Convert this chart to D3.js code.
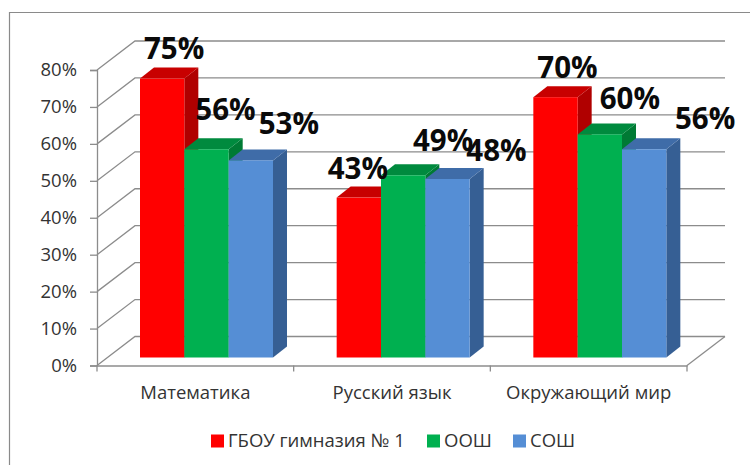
<!DOCTYPE html>
<html>
<head>
<meta charset="utf-8">
<script src="https://cdn.jsdelivr.net/npm/d3@7"></script>
<style>
    html, body { margin: 0; padding: 0; background: #fff; }
    text { font-family: "Open Sans", sans-serif; fill: #333; }
</style>
</head>
<body>
<svg width="750" height="465"></svg>
<script>
// данные с картинки
var categories = ["Математика", "Русский язык", "Окружающий мир"];
var seriesNames = ["ГБОУ гимназия № 1", "ООШ", "СОШ"];
var gymnasium = [75, 43, 70];
var oosh = [56, 49, 60];
var sosh = [53, 48, 56];
var yTicks = [0, 10, 20, 30, 40, 50, 60, 70, 80];

// цвета: перед, верх, бок
var fronts = ["#ff0000", "#00b050", "#558ed5"];
var tops = ["#c80000", "#008a3e", "#3f6ca8"];
var sides = ["#b00000", "#007a34", "#365f94"];

// подписи в оригинале сдвинуты вручную, смещение от верха столбца [dx, dy]
var labelNudge = [
    [[12, -32], [-1, -30], [12, -31]],
    [[19, -41], [40, -36], [30, -37]],
    [[38, -38], [49, -30], [61, -32]]
];

var series = [gymnasium, oosh, sosh];
var gridColor = "#8c8c8c";

var svg = d3.select("svg");

// рамка
svg.append("path")
    .attr("d", "M9.5,465V12.5H750")
    .attr("fill", "none").attr("stroke", "#8a8a8a").attr("stroke-width", 1.2);

var x = d3.scaleBand().domain(d3.range(categories.length)).range([97, 687]);
var y = d3.scaleLinear().domain([0, 80]).range([365.5, 70]);
// столбцы стоят в середине пола, поэтому у них своя шкала
var barY = d3.scaleLinear().domain([0, 80]).range([357.5, 60]);
var inner = d3.scaleBand().domain(d3.range(series.length)).range([43, 176]);

// глубина стенки и столбца
var wallDx = 38, wallDy = -29;
var barDx = 14, barDy = -11;

// стенка и пол
var grid = svg.append("g").attr("fill", "none").attr("stroke", gridColor).attr("stroke-width", 1.3);
yTicks.forEach(function (t) {
    grid.append("path").attr("d", d3.line()([
        [97, y(t)],
        [97 + wallDx, y(t) + wallDy],
        [687 + wallDx, y(t) + wallDy]
    ]));
});
grid.append("path").attr("d", d3.line()([
    [687 + wallDx, y(0) + wallDy],
    [687, y(0)]
]));

// оси
var yAxis = svg.append("g").attr("transform", "translate(97,0)")
    .call(d3.axisLeft(y).tickValues(yTicks).tickFormat(function (d) { return d + "%"; }).tickSize(7).tickPadding(13));
var xAxis = svg.append("g").attr("transform", "translate(0," + y(0) + ")")
    .call(d3.axisBottom(x).tickFormat(function (i) { return categories[i]; }).tickSize(0).tickPadding(20));

[yAxis, xAxis].forEach(function (a) {
    a.selectAll(".domain").attr("stroke", gridColor).attr("stroke-width", 1.3);
    a.selectAll(".tick line").attr("stroke", gridColor).attr("stroke-width", 1.3);
    a.selectAll("text").style("font-family", "Open Sans").attr("fill", "#333").style("font-size", "18.5px");
});

// засечки категорий
svg.append("g").selectAll("line")
    .data(d3.range(categories.length + 1))
    .enter().append("line")
    .attr("x1", function (d) { return 97 + d * x.step(); })
    .attr("x2", function (d) { return 97 + d * x.step(); })
    .attr("y1", y(0)).attr("y2", y(0) + 6)
    .attr("stroke", gridColor).attr("stroke-width", 1.3);

// столбцы
var bars = svg.append("g");
categories.forEach(function (c, i) {
    series.forEach(function (vals, s) {
        var x0 = x(i) + inner(s);
        var x1 = x0 + inner.bandwidth();
        var yt = barY(vals[i]);
        var yb = barY(0);
        var g = bars.append("g");
        g.append("path").attr("fill", sides[s]).attr("d", d3.line()([
            [x1, yt], [x1 + barDx, yt + barDy], [x1 + barDx, yb + barDy], [x1, yb]
        ]) + "Z");
        g.append("path").attr("fill", tops[s]).attr("d", d3.line()([
            [x0, yt], [x0 + barDx, yt + barDy], [x1 + barDx, yt + barDy], [x1, yt]
        ]) + "Z");
        g.append("rect").attr("fill", fronts[s])
            .attr("x", x0).attr("y", yt)
            .attr("width", x1 - x0).attr("height", yb - yt);
    });
});

// подписи значений
var labels = svg.append("g");
categories.forEach(function (c, i) {
    series.forEach(function (vals, s) {
        var cx = x(i) + inner(s) + inner.bandwidth() / 2;
        var n = labelNudge[s][i];
        labels.append("text")
            .attr("x", cx + n[0])
            .attr("y", y(vals[i]) - 8 + n[1])
            .attr("dy", "0.35em")
            .attr("text-anchor", "middle")
            .style("font-size", "29.5px")
            .style("font-weight", "700")
            .style("fill", "#0a0a0a")
            .text(vals[i] + "%");
    });
});

// легенда
var legendX = [211, 427, 513];
var legend = svg.append("g");
seriesNames.forEach(function (name, s) {
    legend.append("rect")
        .attr("x", legendX[s]).attr("y", 434.5)
        .attr("width", 13).attr("height", 13)
        .attr("fill", fronts[s]);
    legend.append("text")
        .attr("x", legendX[s] + 17).attr("y", 441)
        .attr("dy", "0.35em")
        .style("font-size", "18.5px")
        .text(name);
});
</script>
</body>
</html>
